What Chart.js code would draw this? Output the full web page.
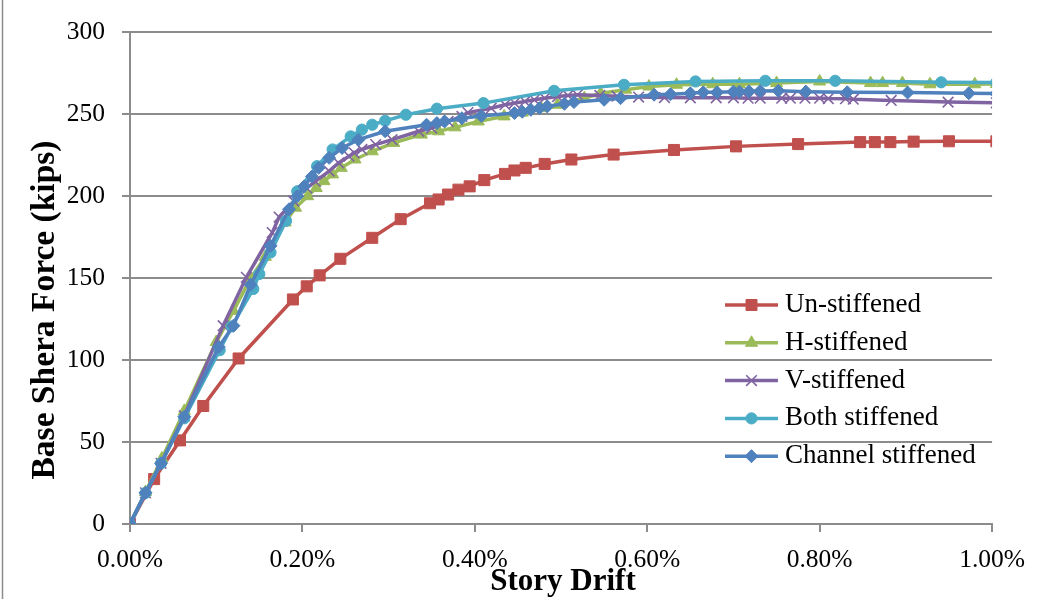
<!DOCTYPE html>
<html>
<head>
<meta charset="utf-8">
<script src="https://cdn.jsdelivr.net/npm/chart.js@4"></script>
<style>
  html, body { margin: 0; padding: 0; background: #fff; }
  #wrap { width: 1038px; height: 599px; position: relative; }
</style>
</head>
<body>
<div id="wrap"><canvas id="driftChart" width="1038" height="599"></canvas></div>
<script>
// story drift (%) vs base shear force (kips) for each stiffener layout
var seriesNames = ["Un-stiffened", "H-stiffened", "V-stiffened", "Both stiffened", "Channel stiffened"];

var unDrift = [0, 0.028, 0.058, 0.085, 0.126, 0.189, 0.205, 0.22, 0.244, 0.281, 0.314, 0.348, 0.358, 0.369, 0.381, 0.394, 0.411, 0.435, 0.446, 0.459, 0.481, 0.512, 0.561, 0.631, 0.703, 0.775, 0.847, 0.864, 0.882, 0.909, 0.950, 1.005];
var unForce = [0, 27.4, 51, 72, 101, 137, 145, 151.7, 161.8, 174.6, 186, 195.7, 198, 201, 204, 206, 209.8, 213.6, 215.7, 217.3, 219.7, 222.4, 225.4, 228.2, 230.4, 231.8, 233, 233, 233, 233.3, 233.5, 233.5];

var hDrift = [0, 0.018, 0.037, 0.063, 0.1, 0.12, 0.14, 0.157, 0.18, 0.192, 0.206, 0.216, 0.225, 0.235, 0.245, 0.261, 0.281, 0.306, 0.338, 0.358, 0.377, 0.404, 0.434, 0.455, 0.477, 0.496, 0.527, 0.546, 0.575, 0.602, 0.634, 0.676, 0.707, 0.75, 0.80, 0.859, 0.873, 0.896, 0.928, 0.98, 1.005];
var hForce = [0, 19.5, 40, 69, 111, 130, 150, 163, 184, 193, 200, 205, 209.2, 213.3, 217.3, 222.4, 227.4, 232.5, 237.6, 239.6, 242, 245.6, 248.7, 251, 253.7, 255.8, 259.8, 262.8, 265, 266.9, 268, 268.3, 268.3, 269, 270, 269, 269, 269, 268.3, 268.3, 268.5];

var vDrift = [0, 0.018, 0.036, 0.063, 0.108, 0.135, 0.165, 0.173, 0.19, 0.205, 0.215, 0.231, 0.242, 0.254, 0.26, 0.269, 0.285, 0.304, 0.335, 0.35, 0.369, 0.385, 0.392, 0.419, 0.435, 0.446, 0.458, 0.469, 0.481, 0.496, 0.508, 0.519, 0.545, 0.565, 0.59, 0.62, 0.65, 0.68, 0.70, 0.717, 0.731, 0.756, 0.766, 0.783, 0.80, 0.81, 0.83, 0.839, 0.883, 0.949, 1.005];
var vForce = [0, 19, 37, 66, 121, 150.5, 177.8, 187.3, 197, 205, 209, 215.3, 220.3, 224.4, 226.5, 228.5, 231.5, 234.5, 239.6, 241.6, 245.6, 248.7, 251, 253.7, 255.8, 256.8, 257.8, 258.8, 259.8, 260.8, 261.5, 261.9, 261.5, 261, 260.5, 260.2, 260, 260, 260, 259.8, 259.8, 259.8, 259.8, 259.8, 259.8, 259.6, 259.5, 259.2, 258.4, 257.4, 257];

var bothDrift = [0, 0.018, 0.036, 0.063, 0.104, 0.118, 0.143, 0.15, 0.163, 0.181, 0.194, 0.217, 0.235, 0.256, 0.269, 0.281, 0.296, 0.32, 0.356, 0.41, 0.492, 0.573, 0.656, 0.737, 0.818, 0.941, 1.005];
var bothForce = [0, 19, 37, 64.5, 106, 120.5, 143.4, 152.5, 165.7, 185, 203, 218.3, 228.5, 236.5, 240.6, 243.6, 246, 249.7, 253.4, 256.8, 264.3, 268, 270, 270.4, 270.4, 269.5, 269.4];

var chDrift = [0, 0.018, 0.036, 0.063, 0.103, 0.12, 0.14, 0.163, 0.1845, 0.194, 0.202, 0.211, 0.219, 0.231, 0.246, 0.265, 0.296, 0.344, 0.356, 0.365, 0.385, 0.4075, 0.446, 0.455, 0.465, 0.475, 0.484, 0.504, 0.515, 0.55, 0.569, 0.608, 0.627, 0.65, 0.665, 0.681, 0.70, 0.707, 0.718, 0.731, 0.752, 0.784, 0.832, 0.902, 0.973, 1.005];
var chForce = [0, 19, 37, 65.5, 108, 121, 146, 169.7, 192, 200, 206, 212, 217.3, 223.4, 229.4, 234.5, 239.6, 243.6, 244.6, 245.6, 247.6, 249, 250.7, 251.5, 252.7, 253.7, 254.8, 256.4, 257.4, 258.8, 259.8, 261.9, 262.2, 262.8, 263.4, 263.4, 263.8, 263.8, 264, 264.2, 264.3, 263.8, 263.4, 263.2, 262.8, 262.6];

var driftTicks = [0, 0.2, 0.4, 0.6, 0.8, 1.0];
var forceTicks = [0, 50, 100, 150, 200, 250, 300];

function toPoints(xs, ys) {
    return xs.map(function (x, i) { return { x: x, y: ys[i] }; });
}

var serif = "'Liberation Serif', 'Times New Roman', serif";

function series(i, xs, ys, color, style, radius, order) {
    return {
        label: seriesNames[i],
        data: toPoints(xs, ys),
        borderColor: color,
        backgroundColor: color,
        pointBackgroundColor: color,
        pointBorderColor: color,
        borderWidth: 3.5,
        pointStyle: style,
        pointRadius: radius,
        pointBorderWidth: style === 'crossRot' ? 1.6 : 1,
        tension: 0,
        order: order
    };
}

var datasets = [
    series(0, unDrift, unForce, "#C0504D", "rect", 7.8, 5),
    series(1, hDrift, hForce, "#9BBB59", "triangle", 7, 4),
    series(2, vDrift, vForce, "#8064A2", "crossRot", 7.5, 3),
    series(3, bothDrift, bothForce, "#4BACC6", "circle", 5.6, 2),
    series(4, chDrift, chForce, "#4F81BD", "rectRot", 6.5, 1)
];

// legend drawn as line + marker like the plotted series
var legendPos = { x: 725, y: 305, step: 37.8, lineLen: 53, textX: 785 };
var lineLegend = {
    id: 'lineLegend',
    afterDraw: function (chart) {
        var ctx = chart.ctx;
        chart.data.datasets.forEach(function (ds, i) {
            var y = legendPos.y + i * legendPos.step;
            ctx.save();
            ctx.strokeStyle = ds.borderColor;
            ctx.lineWidth = ds.borderWidth;
            ctx.beginPath();
            ctx.moveTo(legendPos.x, y);
            ctx.lineTo(legendPos.x + legendPos.lineLen, y);
            ctx.stroke();
            ctx.fillStyle = ds.pointBackgroundColor;
            ctx.strokeStyle = ds.pointBorderColor;
            ctx.lineWidth = ds.pointBorderWidth;
            Chart.helpers.drawPoint(ctx, {
                pointStyle: ds.pointStyle,
                radius: ds.pointRadius,
                rotation: 0,
                borderWidth: ds.pointBorderWidth
            }, legendPos.x + legendPos.lineLen / 2, y);
            ctx.fillStyle = "#000";
            ctx.font = "27px " + serif;
            ctx.textAlign = "left";
            ctx.textBaseline = "middle";
            ctx.fillText(ds.label, legendPos.textX, y);
            ctx.restore();
        });
    }
};

// axis titles and the outer frame line
var axisTitles = {
    id: 'axisTitles',
    afterDraw: function (chart) {
        var ctx = chart.ctx;
        ctx.save();
        ctx.fillStyle = "#000";
        ctx.textAlign = "center";
        ctx.textBaseline = "middle";
        ctx.font = "bold 31px " + serif;
        ctx.fillText("Story Drift", 563, 582);
        ctx.font = "bold 33.5px " + serif;
        ctx.translate(45, 310);
        ctx.rotate(-Math.PI / 2);
        ctx.fillText("Base Shera Force (kips)", 0, 0);
        ctx.restore();

        ctx.save();
        ctx.strokeStyle = "#8c8c8c";
        ctx.lineWidth = 1.5;
        ctx.beginPath();
        ctx.moveTo(2.5, 0);
        ctx.lineTo(2.5, 599);
        ctx.stroke();
        ctx.restore();
    }
};

var ctx = document.getElementById("driftChart").getContext("2d");
var driftChart = new Chart(ctx, {
    type: 'line',
    data: { datasets: datasets },
    plugins: [lineLegend, axisTitles],
    options: {
        responsive: false,
        animation: false,
        devicePixelRatio: 1,
        layout: { padding: { left: 0, top: 30, right: 41, bottom: 0 } },
        plugins: {
            legend: { display: false },
            tooltip: { enabled: false }
        },
        scales: {
            x: {
                type: 'linear',
                min: 0,
                max: 1,
                afterBuildTicks: function (scale) {
                    scale.ticks = driftTicks.map(function (v) { return { value: v }; });
                },
                afterFit: function (scale) { scale.height = 75; },
                ticks: {
                    padding: 13,
                    color: "#000",
                    font: { family: serif, size: 25.5 },
                    maxRotation: 0,
                    callback: function (v) { return v.toFixed(2) + "%"; }
                },
                grid: {
                    drawOnChartArea: false,
                    drawTicks: true,
                    tickLength: 8,
                    color: "#8c8c8c",
                    lineWidth: 2
                },
                border: { display: true, color: "#8c8c8c", width: 2 }
            },
            y: {
                min: 0,
                max: 300,
                afterBuildTicks: function (scale) {
                    scale.ticks = forceTicks.map(function (v) { return { value: v }; });
                },
                afterFit: function (scale) { scale.width = 130; },
                ticks: {
                    padding: 17,
                    color: "#000",
                    font: { family: serif, size: 25.5 }
                },
                grid: {
                    color: "#8c8c8c",
                    lineWidth: 2,
                    tickLength: 8
                },
                border: { display: true, color: "#8c8c8c", width: 2 }
            }
        }
    }
});
</script>
</body>
</html>
